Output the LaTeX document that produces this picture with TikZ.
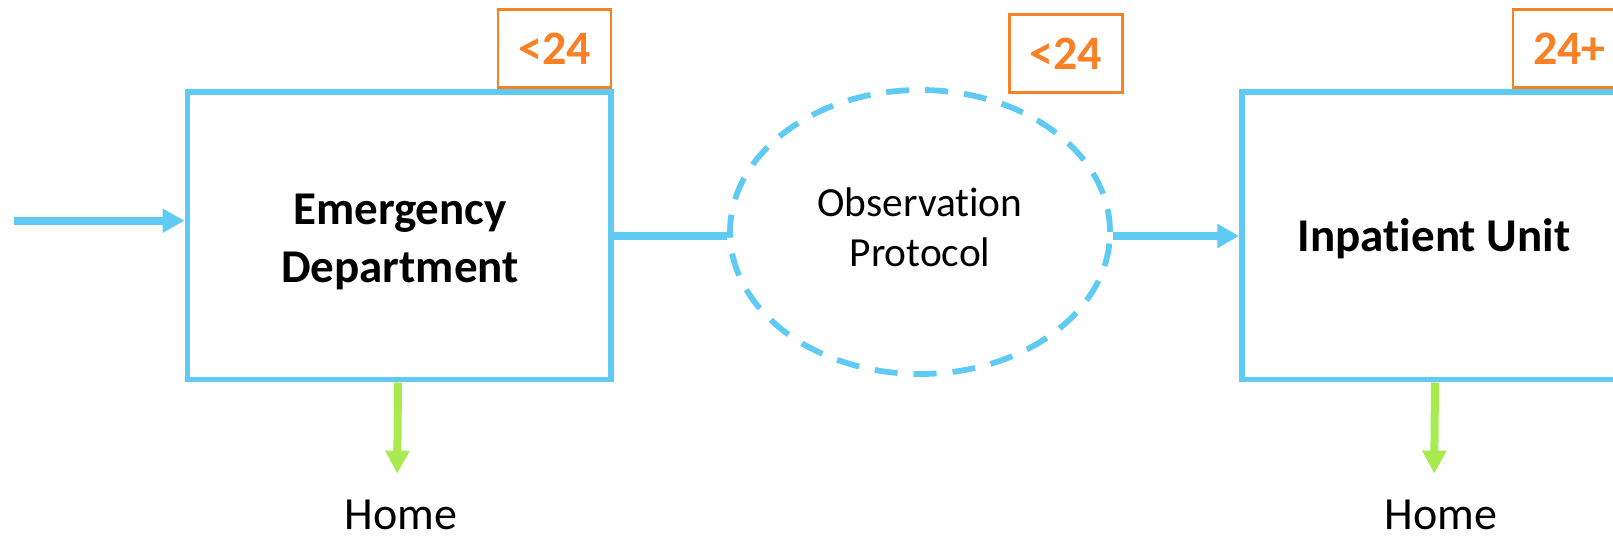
\documentclass[tikz,border=0pt]{standalone}
\usepackage{fontspec}
\setmainfont{Carlito}[Ligatures=NoCommon]
\usetikzlibrary{arrows.meta,shapes.geometric}
\definecolor{skyb}{RGB}{95,202,244}
\definecolor{orng}{RGB}{250,128,38}
\definecolor{lgreen}{RGB}{168,234,80}
\tikzset{
  unitbox/.style={draw=skyb, line width=2.75pt, minimum width=#1, minimum height=143.75pt, inner sep=0pt},
  obsell/.style={ellipse, draw=skyb, line width=2.9pt, dash pattern=on 11.5pt off 8pt, minimum width=190pt, minimum height=142pt, inner sep=0pt},
  bigtext/.style={font=\fontsize{23.5pt}{29.2pt}\selectfont\bfseries, align=center, inner sep=0pt},
  obstext/.style={font=\fontsize{20.7pt}{25pt}\selectfont, align=center, inner sep=0pt},
  hometext/.style={font=\fontsize{23pt}{28pt}\selectfont, inner sep=0pt},
  hourbox/.style={draw=orng, line width=1.4pt, text=orng, font=\fontsize{24pt}{28pt}\selectfont\bfseries, minimum width=56.5pt, minimum height=39pt, inner sep=0pt},
  bluearrow/.style={draw=skyb, line width=4pt, -{Triangle[length=11pt,width=11.5pt]}},
  blueline/.style={draw=skyb, line width=4pt},
  greenarrow/.style={draw=lgreen, line width=4pt, -{Triangle[length=11.5pt,width=11.5pt]}}
}
\begin{document}
\begin{tikzpicture}[x=0.5pt,y=-0.5pt]
\useasboundingbox (0,0) rectangle (1613,539);
\clip (0,0) rectangle (1613,539);
\node[unitbox=211.75pt] (ED) at (399,236) {};
\node[bigtext] (EDt) at (400,241.7) {Emergency\\Department};
\node[unitbox=192pt] (IU) at (1434,236) {};
\node[bigtext, anchor=base] (IUt) at (1434,251.7) {Inpatient Unit};
\node[obsell] (OBS) at (920,232) {};
\node[obstext] (OBSt) at (920,227.5) {Observation\\Protocol};
\node[hourbox] (h1) at (554.5,48.3) {<24};
\node[hourbox] (h2) at (1066,53.3) {<24};
\node[hourbox] (h3) at (1569.5,48.3) {24+};
\node[hometext, anchor=base] (home1) at (401,529.5) {Home};
\node[hometext, anchor=base] (home2) at (1441,529.5) {Home};
\coordinate (in) at (14,220.7);
\draw[bluearrow] (in) -- (in -| ED.west);
\draw[blueline] (ED.east) -- (ED.east -| OBS.west);
\draw[bluearrow] (OBS.east |- IU.west) -- (IU.west);
\draw[greenarrow, shorten >=13pt] ([xshift=-0.5pt]ED.south) -- ([xshift=-1pt]ED.south |- home1.north);
\draw[greenarrow, shorten >=13pt] ([xshift=0.5pt]IU.south) -- (IU.south |- home2.north);
\end{tikzpicture}
\end{document}
